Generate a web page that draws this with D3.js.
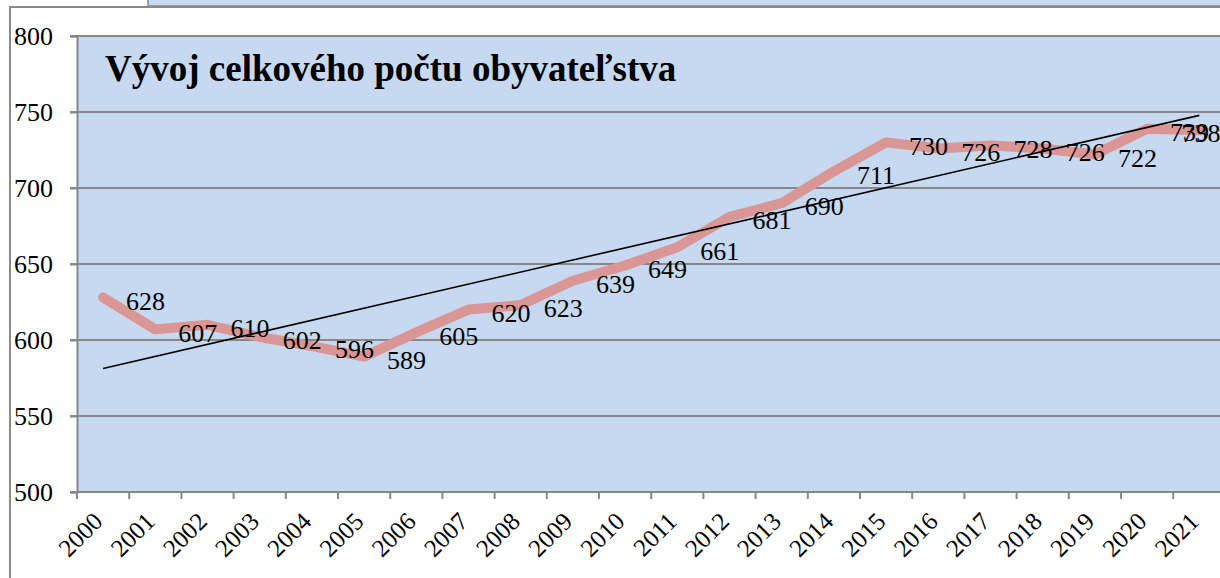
<!DOCTYPE html>
<html>
<head>
<meta charset="utf-8">
<script src="https://cdn.jsdelivr.net/npm/d3@7"></script>
<style>
  body { margin: 0; background: #fff; }
  svg { display: block; }
  svg text { font-family: "Liberation Serif", "Times New Roman", serif; fill: #000; }
</style>
</head>
<body>
<div id="chart"></div>
<script>
// data
var years = ["2000", "2001", "2002", "2003", "2004", "2005", "2006", "2007", "2008", "2009", "2010",
             "2011", "2012", "2013", "2014", "2015", "2016", "2017", "2018", "2019", "2020", "2021"];
var population = [628, 607, 610, 602, 596, 589, 605, 620, 623, 639, 649,
                  661, 681, 690, 711, 730, 726, 728, 726, 722, 739, 738];
var yTicks = [500, 550, 600, 650, 700, 750, 800];
var title = "Vývoj celkového počtu obyvateľstva";

// dimensions
var width = 1220, height = 578,
    plotLeft = 77, plotTop = 36, plotBottom = 492,
    bandW = 52.2,
    plotRight = plotLeft + years.length * bandW;

var serif = "'Liberation Serif', 'Times New Roman', serif";

var svg = d3.select("#chart")
  .append("svg")
    .attr("width", width)
    .attr("height", height);

// strip of the neighbouring chart above and the chart frame
svg.append("rect")
    .attr("x", 148).attr("y", -10)
    .attr("width", 1100).attr("height", 16)
    .attr("fill", "#c6d9f1")
    .attr("stroke", "#8a8a8a").attr("stroke-width", 1.5);
svg.append("rect")
    .attr("x", 10).attr("y", 7)
    .attr("width", 1300).attr("height", 700)
    .attr("fill", "#fff")
    .attr("stroke", "#8a8a8a").attr("stroke-width", 2);

// scales
var x = d3.scaleBand()
    .domain(years)
    .range([plotLeft, plotRight])
    .padding(0);
var y = d3.scaleLinear()
    .domain([500, 800])
    .range([plotBottom, plotTop]);

// plot background
svg.append("rect")
    .attr("x", plotLeft).attr("y", plotTop)
    .attr("width", plotRight - plotLeft).attr("height", plotBottom - plotTop)
    .attr("fill", "#c6d9f1");

// gridlines
svg.append("g")
  .selectAll("line")
  .data(yTicks)
  .enter()
  .append("line")
    .attr("x1", plotLeft - 7).attr("x2", plotRight)
    .attr("y1", function(d) { return y(d); })
    .attr("y2", function(d) { return y(d); })
    .attr("stroke", "#878787")
    .attr("stroke-width", 2);

// y axis
var yAxis = svg.append("g")
    .attr("transform", "translate(" + plotLeft + ",0)")
    .call(d3.axisLeft(y).tickValues(yTicks).tickSize(7).tickPadding(17))
    .attr("font-family", serif)
    .attr("font-size", 26);
yAxis.select(".domain").attr("stroke", "#878787").attr("stroke-width", 2);
yAxis.selectAll(".tick line").attr("stroke", "#878787").attr("stroke-width", 2);
yAxis.selectAll("text").attr("fill", "#000");

// x axis: ticks between categories
svg.append("g")
  .selectAll("line")
  .data(years.concat(["end"]))
  .enter()
  .append("line")
    .attr("x1", function(d) { return d === "end" ? plotRight : x(d); })
    .attr("x2", function(d) { return d === "end" ? plotRight : x(d); })
    .attr("y1", plotBottom).attr("y2", plotBottom + 7)
    .attr("stroke", "#878787")
    .attr("stroke-width", 2);

svg.append("g")
  .selectAll("text")
  .data(years)
  .enter()
  .append("text")
    .attr("text-anchor", "end")
    .attr("transform", function(d) { return "translate(" + (x(d) + x.bandwidth() / 2 + 1) + "," + (plotBottom + 31) + ")rotate(-45)"; })
    .style("font-family", serif)
    .style("font-size", "25px")
    .text(function(d) { return d; });

// linear trend
var n = population.length,
    mx = d3.mean(population, function(d, i) { return i; }),
    my = d3.mean(population),
    slope = d3.sum(population, function(d, i) { return (i - mx) * (d - my); }) /
            d3.sum(population, function(d, i) { return (i - mx) * (i - mx); }),
    icpt = my - slope * mx;

// main line
var line = d3.line()
    .x(function(d, i) { return x(years[i]) + x.bandwidth() / 2; })
    .y(function(d) { return y(d); });

svg.append("path")
    .datum(population)
    .attr("fill", "none")
    .attr("stroke", "#d99694")
    .attr("stroke-width", 10)
    .attr("stroke-linejoin", "round")
    .attr("stroke-linecap", "round")
    .attr("d", line);

svg.append("line")
    .attr("x1", x(years[0]) + x.bandwidth() / 2)
    .attr("y1", y(icpt))
    .attr("x2", x(years[n - 1]) + x.bandwidth() / 2)
    .attr("y2", y(icpt + slope * (n - 1)))
    .attr("stroke", "#000")
    .attr("stroke-width", 1.6);

// data labels
svg.append("g")
  .selectAll("text")
  .data(population)
  .enter()
  .append("text")
    .attr("y", function(d) { return y(d); })
    .attr("dy", "0.47em")
    .style("font-family", serif)
    .style("font-size", "26px")
    .text(function(d) { return d; })
    .attr("x", function(d, i) {
      var px = x(years[i]) + x.bandwidth() / 2 + 23;
      var w = this.getComputedTextLength();
      return Math.min(px, plotRight - 5 - w);
    });

// title
svg.append("text")
    .attr("x", 105)
    .attr("y", 81)
    .style("font-family", serif)
    .style("font-size", "37px")
    .style("font-weight", "bold")
    .text(title);
</script>
</body>
</html>
